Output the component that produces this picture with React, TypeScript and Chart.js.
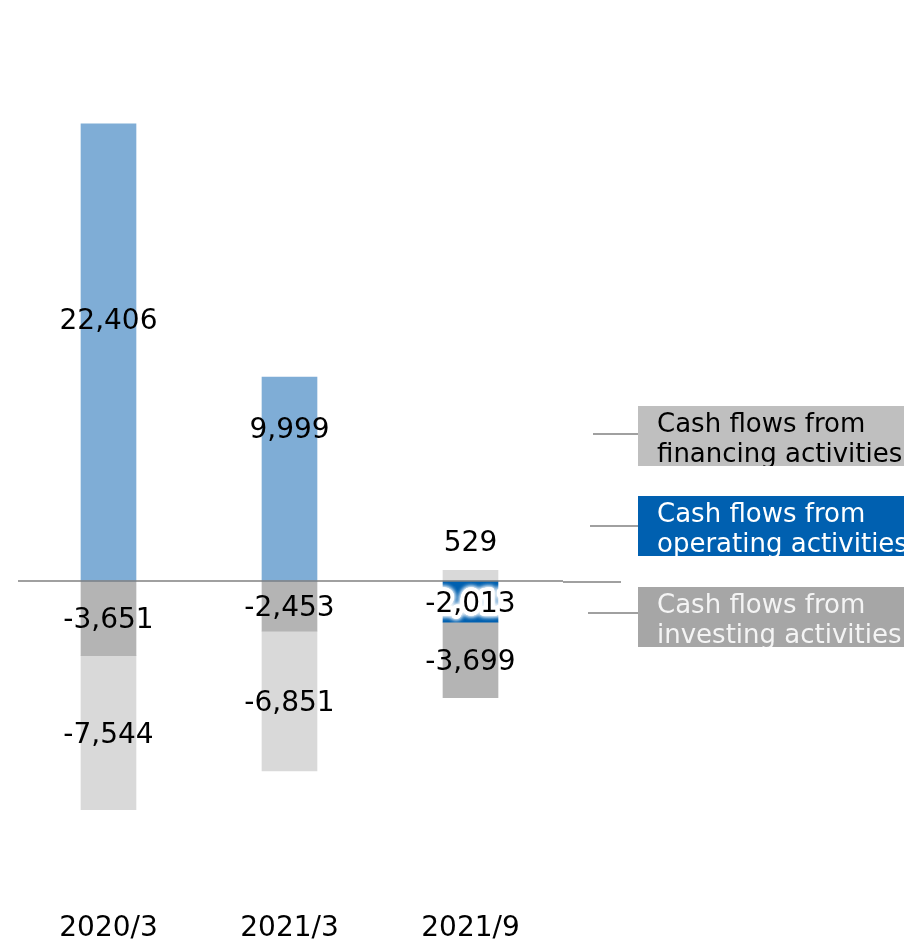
import React, { useEffect, useRef } from "react";
import { Chart, registerables } from "chart.js";

Chart.register(...registerables);

const categories = ["2020/3", "2021/3", "2021/9"];
const operating = [22406, 9999, -2013];
const investing = [-3651, -2453, -3699];
const financing = [-7544, -6851, 529];

const legendLines = [
  ["Cash flows from", "financing activities"],
  ["Cash flows from", "operating activities"],
  ["Cash flows from", "investing activities"],
];

const FONT = "'DejaVu Sans', Verdana, sans-serif";

// label vertical offsets from each segment's centre (px), per dataset
const labelOffsets = [
  [-33, -51, 0],
  [0, 0, 0],
  [0, 0, -35],
];
const glowLabels = [[false, false, true], [false, false, false], [false, false, false]];

const valueLabelPlugin = {
  id: "valueLabels",
  afterDatasetsDraw(chart: any) {
    const ctx = chart.ctx;
    const y0 = chart.scales.y.getPixelForValue(0);
    ctx.save();
    ctx.strokeStyle = "#808080";
    ctx.lineWidth = 1.5;
    ctx.beginPath();
    ctx.moveTo(18, y0);
    ctx.lineTo(563, y0);
    ctx.stroke();
    ctx.beginPath();
    ctx.moveTo(563, y0 + 1);
    ctx.lineTo(621, y0 + 1);
    ctx.stroke();
    ctx.restore();

    ctx.save();
    ctx.font = `28px ${FONT}`;
    ctx.textAlign = "center";
    ctx.textBaseline = "alphabetic";
    chart.data.datasets.forEach((ds: any, di: number) => {
      const meta = chart.getDatasetMeta(di);
      meta.data.forEach((el: any, i: number) => {
        const v = ds.data[i];
        const txt = v.toLocaleString("en-US");
        const cy = (el.y + el.base) / 2 + labelOffsets[di][i];
        const by = cy + 10;
        if (glowLabels[di][i]) {
          ctx.save();
          ctx.shadowColor = "rgba(255,255,255,1)";
          ctx.shadowBlur = 5;
          ctx.strokeStyle = "#ffffff";
          ctx.lineWidth = 7;
          ctx.lineJoin = "round";
          for (let k = 0; k < 3; k++) ctx.strokeText(txt, el.x, by);
          ctx.restore();
        }
        ctx.fillStyle = "#000";
        ctx.fillText(txt, el.x, by);
      });
    });
    ctx.restore();
  },
};

const legendBoxes = [
  { top: 406, lineY: 434, lineX: 593, fill: "#bfbfbf", color: "#000000" },
  { top: 496, lineY: 526, lineX: 590, fill: "#0060b0", color: "#ffffff" },
  { top: 587, lineY: 613, lineX: 588, fill: "#a6a6a6", color: "#f4f4f4" },
];

const legendPlugin = {
  id: "sideLegend",
  afterDraw(chart: any) {
    const ctx = chart.ctx;
    legendBoxes.forEach((b, i) => {
      ctx.save();
      ctx.strokeStyle = "#808080";
      ctx.lineWidth = 1.5;
      ctx.beginPath();
      ctx.moveTo(b.lineX, b.lineY);
      ctx.lineTo(638, b.lineY);
      ctx.stroke();
      ctx.fillStyle = b.fill;
      ctx.fillRect(638, b.top, 266, 60);
      ctx.beginPath();
      ctx.rect(638, b.top, 266, 60);
      ctx.clip();
      ctx.fillStyle = b.color;
      ctx.font = `26px ${FONT}`;
      ctx.textAlign = "left";
      ctx.textBaseline = "alphabetic";
      ctx.fillText(legendLines[i][0], 657, b.top + 26);
      ctx.fillText(legendLines[i][1], 657, b.top + 56);
      ctx.restore();
    });
  },
};

export default function App() {
  const ref = useRef<HTMLCanvasElement>(null);
  useEffect(() => {
    if (!ref.current) return;
    const chart = new Chart(ref.current, {
      type: "bar",
      data: {
        labels: categories,
        datasets: [
          {
            label: "Cash flows from operating activities",
            data: operating,
            backgroundColor: ["#7fadd6", "#7fadd6", "#0060b0"],
            barThickness: 55,
          },
          {
            label: "Cash flows from investing activities",
            data: investing,
            backgroundColor: "#b4b4b4",
            barThickness: 55,
          },
          {
            label: "Cash flows from financing activities",
            data: financing,
            backgroundColor: "#d9d9d9",
            barThickness: 55,
          },
        ],
      },
      options: {
        responsive: false,
        animation: false,
        layout: { padding: { left: 18, right: 343, top: 20, bottom: -9 } },
        plugins: {
          legend: { display: false },
          tooltip: { enabled: false },
        },
        scales: {
          x: {
            stacked: true,
            grid: { display: false, drawTicks: false },
            border: { display: false },
            ticks: {
              font: { family: FONT, size: 28 },
              color: "#000",
              padding: 4,
            },
          },
          y: {
            stacked: true,
            display: false,
            min: -16037,
            max: 27495,
          },
        },
      },
      plugins: [valueLabelPlugin, legendPlugin],
    });
    return () => chart.destroy();
  }, []);
  return (
    <div style={{ position: "absolute", left: 0, top: 0, width: 904, height: 941 }}>
      <canvas ref={ref} width={904} height={941} style={{ display: "block" }} />
    </div>
  );
}
